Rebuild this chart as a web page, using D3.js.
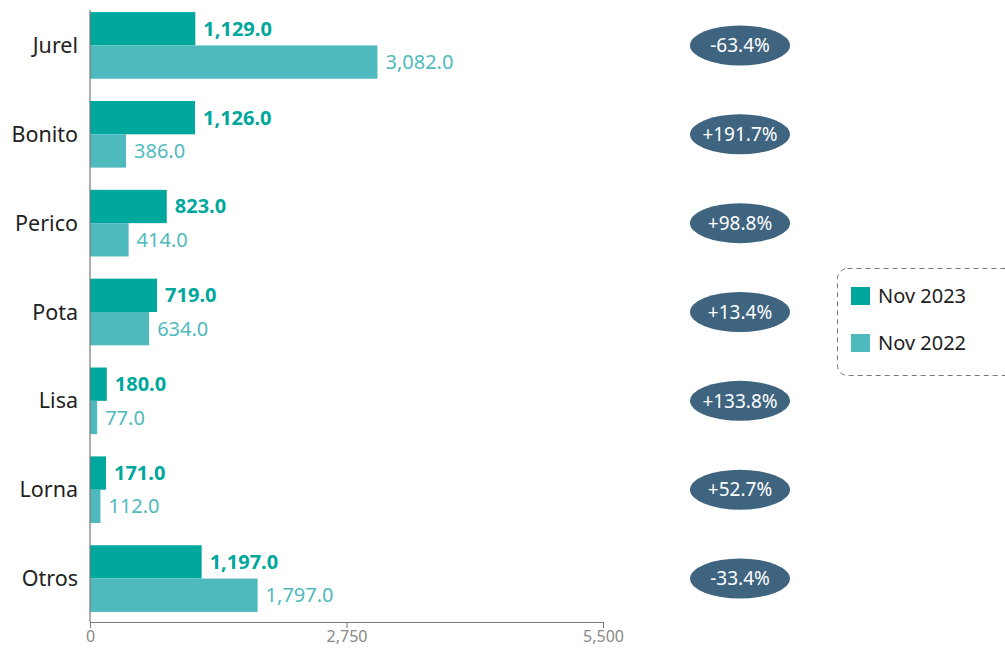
<!DOCTYPE html>
<html>
<head>
<meta charset="utf-8">
<script src="https://cdn.jsdelivr.net/npm/d3@7"></script>
<style>
  body { margin: 0; background: #fff; }
  svg { font-family: "Noto Sans", "Open Sans", sans-serif; }
</style>
</head>
<body>
<div id="chart"></div>
<script>
var width = 1005, height = 652;

// data
var categories = ["Jurel", "Bonito", "Perico", "Pota", "Lisa", "Lorna", "Otros"];
var nov2023 = [1129, 1126, 823, 719, 180, 171, 1197];
var nov2022 = [3082, 386, 414, 634, 77, 112, 1797];
var seriesNames = ["Nov 2023", "Nov 2022"];
var xTicks = [0, 2750, 5500];

var colors = ["#00a79d", "#4fbabd"];
var badgeColor = "#3e6480";

var svg = d3.select("#chart").append("svg")
    .attr("width", width)
    .attr("height", height);

var x = d3.scaleLinear()
    .domain([0, 5500])
    .range([90, 603]);

var y = d3.scaleBand()
    .domain(categories)
    .range([1, 623])
    .paddingInner(0.25)
    .paddingOuter(0.125);

var sub = d3.scaleBand()
    .domain([0, 1])
    .range([0, y.bandwidth()]);

var rows = categories.map(function(c, i) {
    return {cat: c, values: [nov2023[i], nov2022[i]]};
});

var fmt = d3.format(",.1f");

var group = svg.selectAll("g.row")
    .data(rows)
    .enter().append("g")
    .attr("class", "row")
    .attr("transform", function(d) { return "translate(0," + y(d.cat) + ")"; });

group.selectAll("rect")
    .data(function(d) { return d.values; })
    .enter().append("rect")
    .attr("x", x(0))
    .attr("y", function(d, i) { return sub(i); })
    .attr("width", function(d) { return x(d) - x(0); })
    .attr("height", sub.bandwidth())
    .style("fill", function(d, i) { return colors[i]; });

group.selectAll("text.val")
    .data(function(d) { return d.values; })
    .enter().append("text")
    .attr("class", "val")
    .attr("x", function(d) { return x(d) + 8; })
    .attr("y", function(d, i) { return sub(i) + sub.bandwidth() / 2; })
    .attr("dy", "0.35em")
    .style("font-size", "20px")
    .style("font-weight", function(d, i) { return i === 0 ? "bold" : "normal"; })
    .style("fill", function(d, i) { return colors[i]; })
    .text(function(d) { return fmt(d); });

// category labels
group.append("text")
    .attr("x", 78)
    .attr("y", y.bandwidth() / 2)
    .attr("dy", "0.35em")
    .attr("text-anchor", "end")
    .style("font-size", "21.5px")
    .style("fill", "#222")
    .text(function(d) { return d.cat; });

// change badges
group.append("ellipse")
    .attr("cx", 740)
    .attr("cy", y.bandwidth() / 2)
    .attr("rx", 50)
    .attr("ry", 20)
    .style("fill", badgeColor);

group.append("text")
    .attr("x", 740)
    .attr("y", y.bandwidth() / 2)
    .attr("dy", "0.35em")
    .attr("text-anchor", "middle")
    .style("font-size", "19px")
    .style("fill", "#fff")
    .text(function(d) {
        var ch = (d.values[0] - d.values[1]) / d.values[1] * 100;
        return (ch >= 0 ? "+" : "-") + Math.abs(ch).toFixed(1) + "%";
    });

// axes
svg.append("line")
    .attr("x1", x(0)).attr("x2", x(0))
    .attr("y1", 10).attr("y2", 622)
    .style("stroke", "#777")
    .style("stroke-width", 1.2);

var xAxis = svg.append("g")
    .attr("transform", "translate(0,622)")
    .call(d3.axisBottom(x).tickValues(xTicks).tickSize(6).tickFormat(d3.format(",")));
xAxis.select(".domain").style("stroke", "#777");
xAxis.selectAll(".tick line").style("stroke", "#777");
xAxis.selectAll(".tick text")
    .style("font-family", "Noto Sans, sans-serif")
    .style("font-size", "16px")
    .style("fill", "#888")
    .attr("y", 9);

// legend
var legend = svg.append("g").attr("transform", "translate(837,268)");
legend.append("rect")
    .attr("x", 0.5).attr("y", 0.5)
    .attr("width", 180).attr("height", 107)
    .attr("rx", 10)
    .style("fill", "none")
    .style("stroke", "#777")
    .style("stroke-dasharray", "5,4");

var items = legend.selectAll("g.item")
    .data(seriesNames)
    .enter().append("g")
    .attr("transform", function(d, i) { return "translate(14," + (19 + i * 47) + ")"; });
items.append("rect")
    .attr("width", 19).attr("height", 18)
    .style("fill", function(d, i) { return colors[i]; });
items.append("text")
    .attr("x", 27).attr("y", 9)
    .attr("dy", "0.35em")
    .style("font-size", "20px")
    .style("fill", "#222")
    .text(function(d) { return d; });
</script>
</body>
</html>
